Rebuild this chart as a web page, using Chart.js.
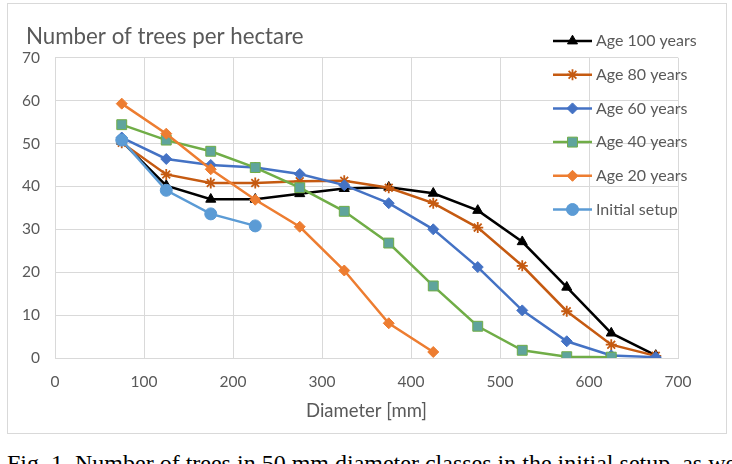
<!DOCTYPE html>
<html>
<head>
<meta charset="utf-8">
<script src="https://cdn.jsdelivr.net/npm/chart.js@4/dist/chart.umd.min.js"></script>
<style>
  html, body { margin: 0; padding: 0; background: #fff; }
  body { width: 732px; height: 464px; overflow: hidden; position: relative; }
  #frame { position: absolute; left: 7px; top: 3px; width: 718px; height: 429px; border: 1px solid #d9d9d9; }
  #wrap { position: absolute; left: 0; top: 0; width: 732px; height: 436px; }
  #caption { position: absolute; left: 7px; top: 451px; white-space: nowrap;
    font-family: "Liberation Serif", "DejaVu Serif", serif; font-size: 24px; line-height: 24px; color: #000; }
</style>
</head>
<body>
<div id="frame"></div>
<div id="wrap"><canvas id="treesChart" width="732" height="436"></canvas></div>
<div id="caption">Fig. 1. Number of trees in 50 mm diameter classes in the initial setup, as we</div>
<script>
(function() {

  // diameter class midpoints [mm]
  const diameters = [75, 125, 175, 225, 275, 325, 375, 425, 475, 525, 575, 625, 675];

  // trees per hectare
  const age100  = [50.5, 40.2, 37.0, 37.0, 38.3, 39.5, 39.8, 38.4, 34.4, 27.1, 16.5, 5.8, 0.6];
  const age80   = [50.2, 42.8, 40.8, 40.8, 41.2, 41.3, 39.7, 36.1, 30.4, 21.5, 10.9, 3.1, 0.5];
  const age60   = [51.4, 46.4, 45.0, 44.4, 42.9, 40.3, 36.1, 30.0, 21.2, 11.1, 3.9, 0.6, 0.2];
  const age40   = [54.4, 50.8, 48.2, 44.4, 39.7, 34.2, 26.8, 16.8, 7.4, 1.8, 0.3, 0.2];
  const age20   = [59.3, 52.3, 44.0, 36.9, 30.6, 20.4, 8.1, 1.4];
  const initial = [50.8, 39.1, 33.6, 30.8];

  const seriesLabels = ['Age 100 years', 'Age 80 years', 'Age 60 years', 'Age 40 years', 'Age 20 years', 'Initial setup'];

  const TEXT = '#595959';
  const GRID = '#d9d9d9';
  const FONT = 'Lato, "Open Sans", sans-serif';

  function pts(vals) {
    return vals.map((v, i) => ({ x: diameters[i], y: v }));
  }

  function series(label, vals, color, style, radius, fill, order) {
    return {
      label: label,
      data: pts(vals),
      borderColor: color,
      backgroundColor: color,
      borderWidth: 2.5,
      pointStyle: style,
      pointRadius: radius,
      pointHoverRadius: radius,
      pointBackgroundColor: fill || color,
      pointBorderColor: color,
      pointBorderWidth: style === 'star' ? 1.8 : 1,
      tension: 0,
      order: order
    };
  }

  // Excel draws later series on top -> lower order on top in Chart.js
  const datasets = [
    series(seriesLabels[0], age100,  '#000000', 'triangle', 5.8, null, 5),
    series(seriesLabels[1], age80,   '#C55A11', 'star',     5.5, null, 4),
    series(seriesLabels[2], age60,   '#4472C4', 'rectRot',  5.5, null, 3),
    series(seriesLabels[3], age40,   '#70AD47', 'rect',     7,   '#5FA49C', 2),
    series(seriesLabels[4], age20,   '#ED7D31', 'rectRot',  5.5, null, 1),
    series(seriesLabels[5], initial, '#5B9BD5', 'circle',   6,   null, 0)
  ];

  // legend drawn over the plot area, like the spreadsheet original
  const insetLegend = {
    id: 'insetLegend',
    afterDraw(chart, args, opts) {
      const ctx = chart.ctx;
      ctx.save();
      chart.data.datasets.forEach((ds, i) => {
        const y = opts.top + i * opts.rowHeight;
        ctx.strokeStyle = ds.borderColor;
        ctx.lineWidth = ds.borderWidth;
        ctx.beginPath();
        ctx.moveTo(opts.left, y);
        ctx.lineTo(opts.left + opts.lineLength, y);
        ctx.stroke();
        ctx.fillStyle = ds.pointBackgroundColor;
        ctx.strokeStyle = ds.pointBorderColor;
        ctx.lineWidth = ds.pointBorderWidth;
        Chart.helpers.drawPoint(ctx, {
          pointStyle: ds.pointStyle, radius: ds.pointRadius, rotation: 0, borderWidth: ds.pointBorderWidth
        }, opts.left + opts.lineLength / 2, y);
        ctx.fillStyle = opts.color;
        ctx.font = opts.font;
        ctx.textBaseline = 'middle';
        ctx.textAlign = 'left';
        ctx.fillText(ds.label, opts.left + opts.lineLength + opts.gap, y);
      });
      ctx.restore();
    }
  };

  // push the title right so it starts where the original does
  const titleShift = {
    id: 'titleShift',
    afterLayout(chart, args, opts) {
      if (chart.titleBlock) chart.titleBlock.left += opts.dx;
    }
  };

  new Chart(document.getElementById('treesChart'), {
    type: 'line',
    data: { datasets: datasets },
    plugins: [insetLegend, titleShift],
    options: {
      responsive: false,
      animation: false,
      layout: { padding: { left: 10, right: 54, top: 0, bottom: 0 } },
      plugins: {
        legend: { display: false },
        tooltip: { enabled: false },
        title: {
          display: true,
          text: 'Number of trees per hectare',
          align: 'start',
          color: TEXT,
          font: { family: FONT, size: 22.3, weight: 'normal' },
          padding: { top: 23, bottom: 8 }
        },
        titleShift: { dx: 16 },
        insetLegend: {
          left: 553, top: 41, rowHeight: 33.7, lineLength: 39, gap: 4,
          color: TEXT, font: '16px ' + FONT
        }
      },
      scales: {
        x: {
          type: 'linear',
          min: 0, max: 700,
          ticks: { stepSize: 100, color: TEXT, padding: 15, font: { family: FONT, size: 15.5 } },
          grid: { color: GRID, drawTicks: false },
          border: { color: GRID },
          title: {
            display: true, text: 'Diameter [mm]', color: TEXT,
            font: { family: FONT, size: 18.5 }, padding: { top: 0, bottom: 14 }
          },
          afterFit: s => { s.height = 78; }
        },
        y: {
          min: 0, max: 70,
          ticks: { stepSize: 10, color: TEXT, padding: 15, font: { family: FONT, size: 15.5 } },
          grid: { color: GRID, drawTicks: false },
          border: { color: GRID },
          afterFit: s => { s.width = 45; }
        }
      }
    }
  });

})();
</script>
</body>
</html>
